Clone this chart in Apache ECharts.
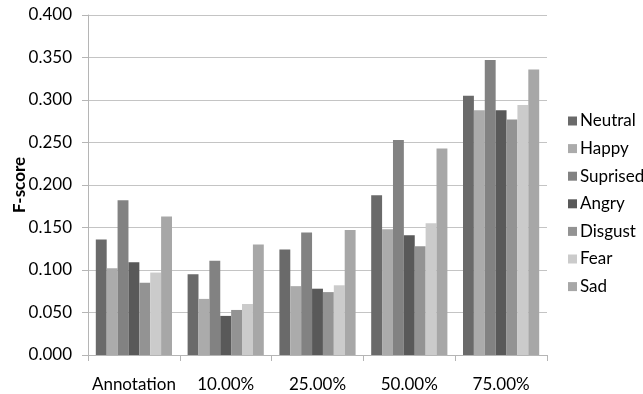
<!DOCTYPE html>
<html>
<head>
<meta charset="utf-8">
<script src="https://cdn.jsdelivr.net/npm/echarts@6/dist/echarts.min.js"></script>
<style>
  html, body { margin: 0; padding: 0; background: #fff; }
  #chart { width: 643px; height: 394px; }
</style>
</head>
<body>
<div id="chart"></div>
<script>
// Conditions on the x axis
const categories = ['Annotation', '10.00%', '25.00%', '50.00%', '75.00%'];

// F-score per emotion, one value per condition
const neutral  = [0.136, 0.095, 0.124, 0.188, 0.305];
const happy    = [0.102, 0.066, 0.081, 0.148, 0.288];
const suprised = [0.182, 0.111, 0.144, 0.253, 0.347];
const angry    = [0.109, 0.046, 0.078, 0.141, 0.288];
const disgust  = [0.085, 0.053, 0.074, 0.128, 0.277];
const fear     = [0.097, 0.060, 0.082, 0.155, 0.294];
const sad      = [0.163, 0.130, 0.147, 0.243, 0.336];

const seriesNames = ['Neutral', 'Happy', 'Suprised', 'Angry', 'Disgust', 'Fear', 'Sad'];
const seriesData = [neutral, happy, suprised, angry, disgust, fear, sad];
const seriesColors = ['#6a6a6a', '#ababab', '#828282', '#595959', '#939393', '#cbcbcb', '#a7a7a7'];

const font = 'Lato, "Open Sans", sans-serif';

const chart = echarts.init(document.getElementById('chart'), null, { renderer: 'canvas' });

chart.setOption({
  animation: false,
  textStyle: { fontFamily: font },
  grid: { left: 88, top: 15, right: 96, bottom: 39, containLabel: false, outerBoundsMode: 'none' },
  legend: {
    orient: 'vertical',
    left: 563,
    top: 107,
    itemWidth: 9,
    itemHeight: 9,
    itemGap: 9.6,
    icon: 'rect',
    textStyle: { fontFamily: font, fontSize: 17, color: '#000', lineHeight: 18, padding: [0, 0, 0, -2] },
    data: seriesNames
  },
  xAxis: {
    type: 'category',
    data: categories,
    axisLine: { show: true, lineStyle: { color: '#b5b5b5', width: 1 } },
    axisTick: { show: true, length: 6, lineStyle: { color: '#b5b5b5' } },
    axisLabel: { color: '#000', fontSize: 17, fontFamily: font, margin: 21, interval: 0 }
  },
  yAxis: {
    type: 'value',
    min: 0,
    max: 0.4,
    interval: 0.05,
    name: 'F-score',
    nameLocation: 'middle',
    nameGap: 60,
    nameRotate: 90,
    nameMoveOverlap: false,
    nameTextStyle: { color: '#000', fontSize: 17, fontWeight: 'bold', fontFamily: font },
    axisLine: { show: true, lineStyle: { color: '#b5b5b5', width: 1 } },
    axisTick: { show: true, length: 6, lineStyle: { color: '#b5b5b5' } },
    axisLabel: {
      color: '#000', fontSize: 17, fontFamily: font, margin: 16,
      formatter: v => v.toFixed(3)
    },
    splitLine: { show: true, lineStyle: { color: '#c4c4c4', width: 1 } }
  },
  series: seriesNames.map((name, i) => ({
    name,
    type: 'bar',
    data: seriesData[i],
    barGap: '0%',
    barCategoryGap: '17%',
    itemStyle: { color: seriesColors[i] }
  }))
});
</script>
</body>
</html>
